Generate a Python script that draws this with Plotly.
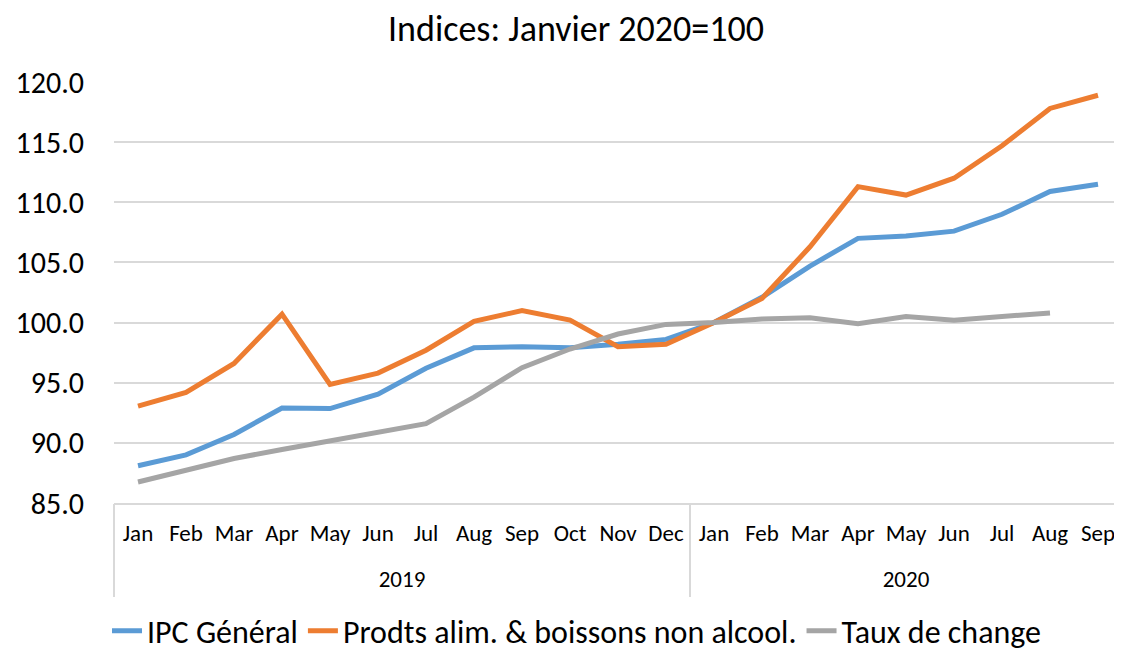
import plotly.graph_objects as go

years = ["2019"] * 12 + ["2020"] * 9
months = ["Jan", "Feb", "Mar", "Apr", "May", "Jun", "Jul", "Aug", "Sep", "Oct", "Nov", "Dec",
          "Jan", "Feb", "Mar", "Apr", "May", "Jun", "Jul", "Aug", "Sep"]

ipc_general = [88.1, 89.0, 90.7, 92.9, 92.85, 94.05, 96.2, 97.9, 98.0, 97.9, 98.2, 98.6,
               100.0, 102.1, 104.7, 107.0, 107.2, 107.6, 109.0, 110.9, 111.5]
prodts_alim = [93.05, 94.2, 96.6, 100.7, 94.85, 95.8, 97.7, 100.1, 101.0, 100.2, 98.0, 98.2,
               100.0, 102.0, 106.3, 111.3, 110.6, 112.0, 114.7, 117.8, 118.9]
taux_change = [86.75, 87.7, 88.7, 89.45, 90.15, 90.8, 91.6, 93.8, 96.25, 97.8, 99.05, 99.85,
               100.0, 100.3, 100.4, 99.9, 100.5, 100.2, 100.5, 100.8, None]

names = ["IPC Général", "Prodts alim. & boissons non alcool.", "Taux de change"]
colors = ["#5B9BD5", "#ED7D31", "#A5A5A5"]
series = [ipc_general, prodts_alim, taux_change]

FONT = "Carlito, Liberation Sans Narrow, Liberation Sans, sans-serif"
GRID = "#D9D9D9"

# unique category keys (month + year) so repeated month names stay distinct
keys = [f"{m} {y}" for m, y in zip(months, years)]
n = len(keys)
xr = [-0.5, n - 0.5]

# year groups: centre positions for labels and boundaries for dividers
year_labels, year_centres, bounds = [], [], [-0.5]
for y in dict.fromkeys(years):
    idx = [i for i, v in enumerate(years) if v == y]
    year_labels.append(y)
    year_centres.append(sum(idx) / len(idx))
    bounds.append(idx[-1] + 0.5)

fig = go.Figure()
for name, col, vals in zip(names, colors, series):
    fig.add_trace(go.Scatter(
        x=keys, y=vals, name=name, mode="lines",
        line=dict(color=col, width=5), connectgaps=False,
    ))

# empty helper traces so the overlay axes (year labels, group dividers) get drawn
fig.add_trace(go.Scatter(x=year_centres, y=[None] * len(year_centres), xaxis="x2",
                         mode="lines", showlegend=False, hoverinfo="skip"))
fig.add_trace(go.Scatter(x=bounds, y=[None] * len(bounds), xaxis="x3",
                         mode="lines", showlegend=False, hoverinfo="skip"))

# page body adds an 8px offset; size/margins compensate so the figure fills the window
W, H = 1114, 645
fig.update_layout(
    width=W, height=H,
    margin=dict(l=106, r=0, t=74, b=150, autoexpand=False),
    paper_bgcolor="white", plot_bgcolor="white",
    font=dict(family=FONT, color="#000000"),
    title=dict(text="Indices: Janvier 2020=100", x=568 / W, xanchor="center",
               y=1 - 20 / H, yanchor="middle",
               font=dict(size=36, family=FONT, color="#000000")),
    legend=dict(orientation="h", x=(569 - 106) / 1008, xanchor="center",
                y=-0.304, yanchor="middle",
                font=dict(size=32, family=FONT), tracegroupgap=0),
    showlegend=True,
    xaxis=dict(type="category", range=xr, tickmode="array", tickvals=keys, ticktext=months,
               showline=True, linecolor=GRID, linewidth=1.5, showgrid=False, ticks="",
               automargin=False, tickfont=dict(size=23, family=FONT), ticklabelstandoff=9),
    xaxis2=dict(overlaying="x", anchor="y", side="bottom", type="linear", range=xr,
                tickmode="array", tickvals=year_centres, ticktext=year_labels,
                showline=False, showgrid=False, zeroline=False, ticks="", automargin=False,
                visible=True, tickfont=dict(size=23, family=FONT), ticklabelstandoff=60),
    xaxis3=dict(overlaying="x", anchor="y", side="bottom", type="linear", range=xr,
                tickmode="array", tickvals=bounds, showticklabels=False, showline=False,
                showgrid=False, zeroline=False, ticks="outside", ticklen=93, tickcolor=GRID,
                tickwidth=1.5, automargin=False, visible=True),
    yaxis=dict(range=[85, 120], dtick=5, tickformat=".1f", showgrid=True, gridcolor=GRID,
               gridwidth=1.5, zeroline=False, showline=False, ticks="", automargin=False,
               tickfont=dict(size=30, family=FONT), ticklabelstandoff=29),
)

fig.write_html("out.html")
